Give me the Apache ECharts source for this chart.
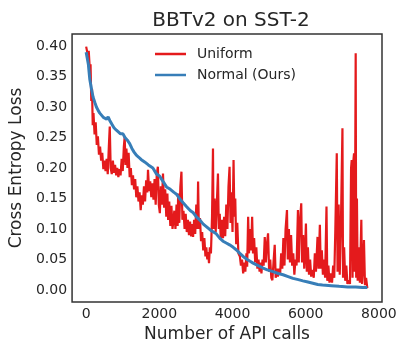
<!DOCTYPE html>
<html>
<head>
<meta charset="utf-8">
<script src="https://cdn.jsdelivr.net/npm/echarts@6/dist/echarts.min.js"></script>
<style>
  html, body { margin: 0; padding: 0; background: #fff; }
  #chart { width: 408px; height: 354px; }
</style>
</head>
<body>
<div id="chart"></div>
<script>
var xTicks = [0, 2000, 4000, 6000, 8000];
var yTicks = [0, 0.05, 0.1, 0.15, 0.2, 0.25, 0.3, 0.35, 0.4];

// Uniform: noisy curve, [api calls, loss]
var uniformData = [
  [0,0.399],[20,0.402],[45,0.385],[70,0.392],[100,0.362],[120,0.37],[140,0.31],[160,0.33],[180,0.27],[200,0.29],
  [230,0.255],[260,0.275],[290,0.238],[320,0.252],[350,0.222],[380,0.235],[410,0.212],[440,0.225],[470,0.198],[500,0.212],
  [530,0.195],[560,0.215],[590,0.19],[620,0.235],[645,0.268],[670,0.2],[700,0.19],[730,0.212],[760,0.192],[790,0.205],
  [820,0.188],[850,0.2],[880,0.185],[910,0.198],[940,0.188],[970,0.215],[1000,0.195],[1030,0.235],[1053,0.251],[1075,0.205],
  [1100,0.232],[1130,0.2],[1160,0.225],[1190,0.185],[1220,0.2],[1250,0.172],[1280,0.188],[1310,0.165],[1340,0.182],[1370,0.152],
  [1400,0.17],[1430,0.145],[1460,0.16],[1490,0.131],[1520,0.155],[1550,0.14],[1580,0.17],[1610,0.145],[1640,0.18],[1670,0.16],
  [1690,0.197],[1720,0.162],[1750,0.178],[1780,0.152],[1810,0.175],[1840,0.148],[1870,0.182],[1900,0.14],[1930,0.19],[1960,0.202],
  [1985,0.14],[2014,0.126],[2040,0.17],[2070,0.14],[2100,0.191],[2130,0.135],[2160,0.165],[2190,0.12],[2220,0.158],[2241,0.115],
  [2270,0.145],[2300,0.105],[2330,0.138],[2360,0.1],[2378,0.098],[2410,0.13],[2440,0.1],[2470,0.14],[2500,0.105],[2514,0.158],
  [2545,0.11],[2575,0.17],[2604,0.194],[2630,0.115],[2660,0.13],[2690,0.1],[2720,0.125],[2750,0.095],[2780,0.115],[2810,0.09],
  [2840,0.112],[2870,0.088],[2900,0.108],[2922,0.087],[2950,0.115],[2980,0.092],[3010,0.14],[3040,0.1],[3059,0.178],[3080,0.1],
  [3110,0.118],[3140,0.08],[3170,0.095],[3200,0.065],[3230,0.085],[3260,0.055],[3284,0.07],[3310,0.05],[3335,0.062],[3357,0.044],
  [3380,0.07],[3410,0.06],[3440,0.12],[3466,0.232],[3480,0.1],[3510,0.15],[3540,0.095],[3570,0.14],[3602,0.191],[3625,0.1],
  [3650,0.125],[3680,0.082],[3710,0.115],[3740,0.085],[3770,0.12],[3800,0.088],[3830,0.14],[3860,0.1],[3890,0.17],[3919,0.202],
  [3945,0.11],[3970,0.16],[4000,0.095],[4028,0.213],[4050,0.12],[4075,0.15],[4100,0.075],[4130,0.11],[4160,0.06],[4201,0.055],
  [4230,0.04],[4260,0.05],[4291,0.027],[4320,0.045],[4350,0.03],[4380,0.06],[4400,0.038],[4427,0.12],[4450,0.06],[4480,0.1],
  [4510,0.065],[4536,0.12],[4560,0.06],[4590,0.085],[4620,0.045],[4650,0.07],[4680,0.035],[4710,0.05],[4740,0.03],[4770,0.045],
  [4790,0.027],[4820,0.05],[4850,0.04],[4881,0.087],[4910,0.045],[4940,0.075],[4971,0.093],[5000,0.03],[5030,0.05],[5060,0.02],
  [5089,0.016],[5120,0.045],[5153,0.074],[5180,0.02],[5210,0.035],[5240,0.022],[5270,0.035],[5300,0.025],[5330,0.06],[5360,0.035],
  [5390,0.085],[5420,0.04],[5450,0.1],[5488,0.131],[5510,0.05],[5540,0.1],[5570,0.045],[5600,0.09],[5630,0.04],[5660,0.06],
  [5690,0.025],[5720,0.05],[5750,0.04],[5788,0.131],[5810,0.045],[5840,0.11],[5878,0.142],[5900,0.045],[5930,0.09],[5960,0.035],
  [5990,0.08],[6006,0.109],[6030,0.03],[6060,0.07],[6090,0.025],[6120,0.05],[6150,0.022],[6188,0.033],[6220,0.02],[6250,0.06],
  [6280,0.03],[6323,0.087],[6350,0.035],[6387,0.107],[6410,0.035],[6440,0.065],[6470,0.025],[6500,0.05],[6530,0.02],[6568,0.137],
  [6590,0.015],[6620,0.04],[6650,0.012],[6686,0.027],[6720,0.012],[6750,0.04],[6780,0.02],[6810,0.1],[6849,0.224],[6870,0.03],
  [6900,0.14],[6930,0.025],[6960,0.1],[7004,0.265],[7020,0.02],[7050,0.07],[7080,0.015],[7110,0.04],[7140,0.01],[7184,0.016],
  [7210,0.01],[7240,0.2],[7257,0.213],[7280,0.02],[7300,0.21],[7321,0.224],[7340,0.03],[7366,0.388],[7380,0.02],[7400,0.15],
  [7420,0.015],[7450,0.07],[7480,0.012],[7520,0.115],[7540,0.01],[7570,0.04],[7592,0.082],[7620,0.008],[7650,0.02],[7684,0.003]
];

// Normal (Ours): smooth curve
var normalData = [
  [0,0.39],[30,0.38],[60,0.37],[100,0.345],[150,0.328],[190,0.316],[240,0.307],[280,0.3],[330,0.294],[373,0.29],
  [420,0.288],[470,0.283],[509,0.284],[560,0.28],[600,0.284],[645,0.278],[700,0.272],[760,0.266],[826,0.262],[880,0.26],
  [940,0.256],[1007,0.256],[1060,0.25],[1120,0.246],[1189,0.24],[1250,0.232],[1310,0.226],[1371,0.221],[1430,0.218],[1500,0.214],
  [1597,0.21],[1700,0.205],[1823,0.2],[1924,0.19],[2005,0.187],[2100,0.178],[2196,0.169],[2300,0.165],[2400,0.16],[2468,0.157],
  [2550,0.15],[2650,0.143],[2740,0.137],[2850,0.13],[2920,0.127],[3012,0.12],[3100,0.115],[3200,0.108],[3284,0.104],[3400,0.098],
  [3480,0.095],[3556,0.092],[3650,0.085],[3740,0.08],[3829,0.077],[3920,0.074],[4019,0.07],[4101,0.066],[4200,0.06],[4291,0.055],
  [4400,0.05],[4480,0.047],[4563,0.044],[4700,0.04],[4835,0.036],[4950,0.033],[5107,0.03],[5250,0.027],[5380,0.025],[5520,0.022],
  [5652,0.019],[5800,0.017],[5924,0.015],[6060,0.013],[6196,0.011],[6330,0.009],[6459,0.008],[6700,0.007],[6912,0.006],[7150,0.005],
  [7366,0.005],[7550,0.004],[7684,0.004]
];

var txt = "#262626";
var font = "DejaVu Sans";

var chart = echarts.init(document.getElementById("chart"));
chart.setOption({
  animation: false,
  color: ["#e41a1c", "#377eb8"],
  title: {
    text: "BBTv2 on SST-2",
    left: 226,
    textAlign: "center",
    top: 6,
    textStyle: { fontFamily: font, fontSize: 20, fontWeight: "normal", color: txt }
  },
  legend: {
    orient: "vertical",
    left: 150,
    top: 42,
    itemWidth: 31,
    itemHeight: 2.5,
    itemGap: 7,
    icon: "rect",
    textStyle: { fontFamily: font, fontSize: 14, color: txt, padding: [0, 0, 0, 6] },
    data: ["Uniform", "Normal (Ours)"]
  },
  grid: {
    left: 70,
    top: 34,
    right: 26,
    bottom: 52,
    show: true,
    borderColor: "#333",
    borderWidth: 1.5
  },
  xAxis: {
    type: "value",
    min: -385,
    max: 8085,
    name: "Number of API calls",
    nameLocation: "middle",
    nameGap: 23,
    nameTextStyle: { fontFamily: font, fontSize: 17, color: txt },
    axisLine: { show: false },
    axisTick: { show: false },
    splitLine: { show: false },
    axisLabel: {
      customValues: xTicks,
      margin: 5,
      fontFamily: font,
      fontSize: 14,
      color: txt,
      formatter: function (v) { return String(v); }
    }
  },
  yAxis: {
    type: "value",
    min: -0.0197,
    max: 0.4197,
    name: "Cross Entropy Loss",
    nameLocation: "middle",
    nameGap: 44,
    nameTextStyle: { fontFamily: font, fontSize: 17, color: txt },
    axisLine: { show: false },
    axisTick: { show: false },
    splitLine: { show: false },
    axisLabel: {
      customValues: yTicks,
      margin: 5,
      fontFamily: font,
      fontSize: 14,
      color: txt,
      formatter: function (v) { return v.toFixed(2); }
    }
  },
  series: [
    {
      name: "Uniform",
      type: "line",
      data: uniformData,
      showSymbol: false,
      lineStyle: { width: 2.2, color: "#e41a1c" }
    },
    {
      name: "Normal (Ours)",
      type: "line",
      data: normalData,
      showSymbol: false,
      lineStyle: { width: 3, color: "#377eb8" }
    }
  ]
});
</script>
</body>
</html>
